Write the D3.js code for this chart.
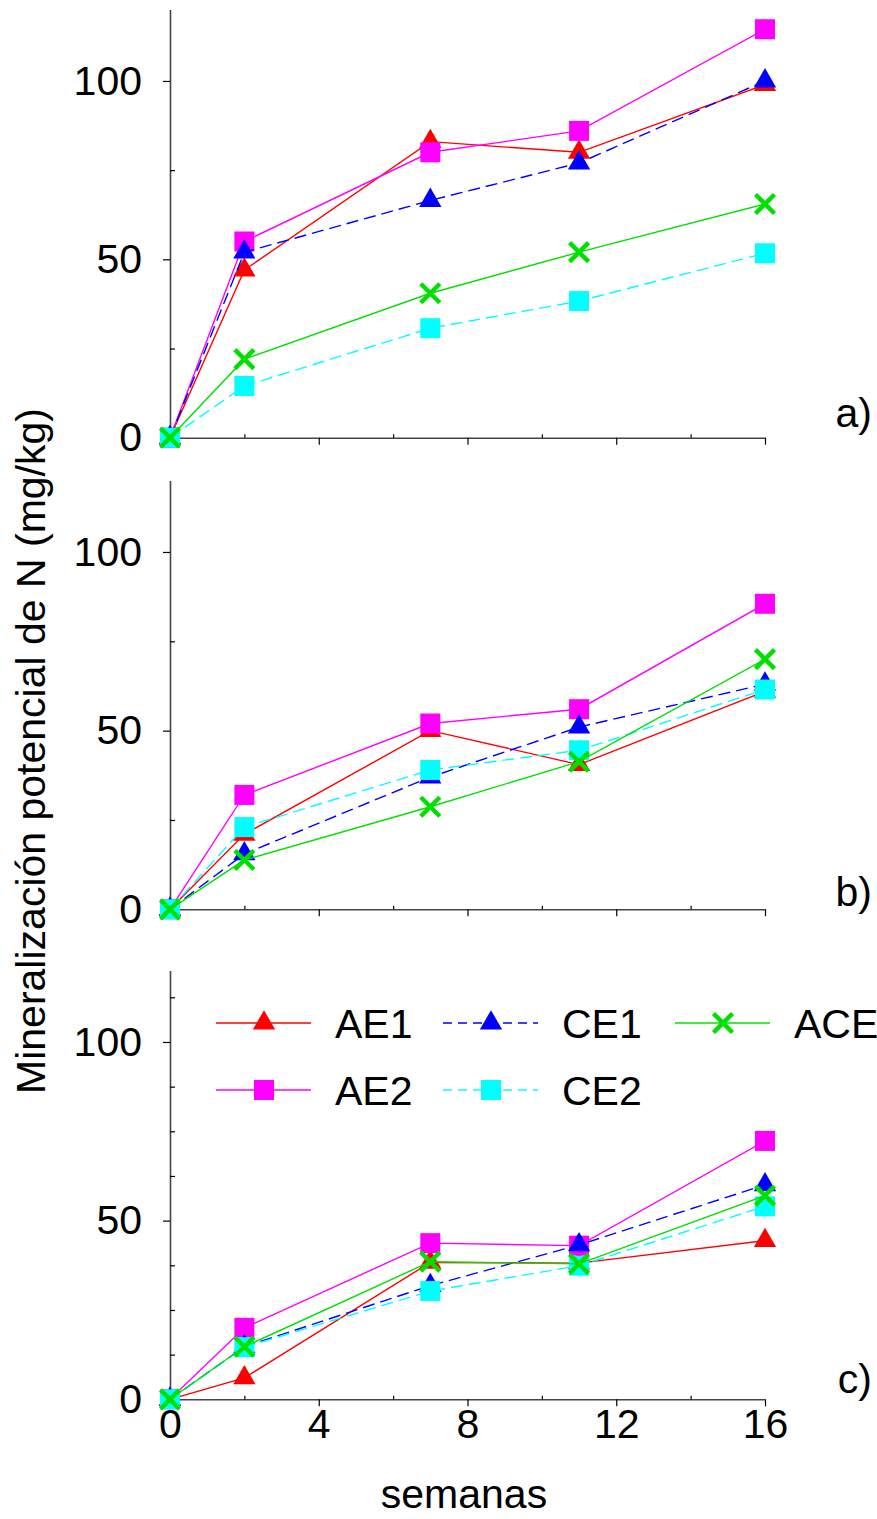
<!DOCTYPE html>
<html>
<head>
<meta charset="utf-8">
<script src="https://cdn.jsdelivr.net/npm/d3@7"></script>
<style>
  html, body { margin: 0; padding: 0; background: #fff; }
  svg { display: block; }
  text { font-family: "Liberation Sans", Arial, sans-serif; fill: #000; }
</style>
</head>
<body>
<svg id="chart" width="877" height="1519"></svg>
<script>
// Sampling weeks
const weeks = [0, 2, 7, 11, 16];

// Series definitions (order = drawing order)
const seriesNames = ["AE1", "AE2", "CE1", "CE2", "ACE"];

// Panel a) values (mg/kg)
const aAE1 = [0, 47, 83, 80, 99];
const aAE2 = [0, 55, 80, 86, 114.5];
const aCE1 = [0, 52, 66.5, 77, 100];
const aCE2 = [0, 14.5, 30.7, 38.3, 51.7];
const aACE = [0, 22, 40.5, 52, 65.5];

// Panel b) values
const bAE1 = [0, 21, 50, 40.5, 61];
const bAE2 = [0, 32, 52, 56, 85.5];
const bCE1 = [0, 15.5, 37, 51, 63];
const bCE2 = [0, 23, 39, 44.5, 61.5];
const bACE = [0, 13.8, 28.7, 41.3, 70];

// Panel c) values
const cAE1 = [0, 6, 38.3, 38.1, 44.4];
const cAE2 = [0, 20, 43.7, 43, 72.3];
const cCE1 = [0, 14.7, 31.8, 43.2, 60];
const cCE2 = [0, 14.6, 30.3, 37.4, 54];
const cACE = [0, 14.7, 38.5, 37.9, 57];

const panelLabels = ["a)", "b)", "c)"];
const yMajorTicks = [0, 50, 100];
const xMajorTicks = [0, 4, 8, 12, 16];
const xMinorTicks = [2, 6, 10, 14];

const panels = [
  { label: panelLabels[0], data: { AE1: aAE1, AE2: aAE2, CE1: aCE1, CE2: aCE2, ACE: aACE },
    minor: [25, 75], top: 9.6, bottom: 437.7, labelY: 427 },
  { label: panelLabels[1], data: { AE1: bAE1, AE2: bAE2, CE1: bCE1, CE2: bCE2, ACE: bACE },
    minor: [25, 75], top: 480.5, bottom: 909.3, labelY: 906 },
  { label: panelLabels[2], data: { AE1: cAE1, AE2: cAE2, CE1: cCE1, CE2: cCE2, ACE: cACE },
    minor: [12.5, 25, 37.5, 62.5, 75, 87.5, 112.5], top: 970.5, bottom: 1399.3, labelY: 1393 }
];

const style = {
  AE1: { color: "#ff0000", dash: null, marker: "triangle" },
  AE2: { color: "#ff00ff", dash: null, marker: "square" },
  CE1: { color: "#0000ff", dash: "12,6", marker: "triangle" },
  CE2: { color: "#00ffff", dash: "12,6", marker: "square" },
  ACE: { color: "#00e000", dash: null, marker: "cross" }
};

const svg = d3.select("#chart");
const x = d3.scaleLinear().domain([0, 16]).range([170, 765]);
const FS = 41;

function drawMarker(g, type, color, cx, cy) {
  if (type === "triangle") {
    g.append("path")
      .attr("d", d3.symbol().type(d3.symbolTriangle).size(215)())
      .attr("transform", `translate(${cx},${cy})`)
      .attr("fill", color);
  } else if (type === "square") {
    g.append("path")
      .attr("d", d3.symbol().type(d3.symbolSquare).size(400)())
      .attr("transform", `translate(${cx},${cy})`)
      .attr("fill", color);
  } else {
    const r = 9.5;
    g.append("path")
      .attr("d", `M${-r},${-r}L${r},${r}M${-r},${r}L${r},${-r}`)
      .attr("transform", `translate(${cx},${cy})`)
      .attr("stroke", color).attr("stroke-width", 4.5).attr("fill", "none");
  }
}

panels.forEach((p, i) => {
  const y = d3.scaleLinear().domain([0, 120]).range([p.bottom, p.top]);
  const g = svg.append("g");

  // y axis: major ticks outside with labels, minor ticks inside
  g.append("g").attr("transform", "translate(170,0)")
    .call(d3.axisLeft(y).tickValues(yMajorTicks).tickSizeInner(7).tickSizeOuter(0).tickPadding(21));
  g.append("g").attr("transform", "translate(170,0)")
    .call(d3.axisLeft(y).tickValues(p.minor).tickSizeInner(-5).tickSizeOuter(0).tickFormat(""))
    .select(".domain").remove();

  // x axis: major ticks outside, minor ticks inside
  g.append("g").attr("transform", `translate(0,${p.bottom})`)
    .call(d3.axisBottom(x).tickValues(xMajorTicks).tickSizeInner(7).tickSizeOuter(0).tickPadding(3)
      .tickFormat(i === 2 ? d3.format("d") : ""));
  g.append("g").attr("transform", `translate(0,${p.bottom})`)
    .call(d3.axisBottom(x).tickValues(xMinorTicks).tickSizeInner(-3.5).tickSizeOuter(0).tickFormat(""))
    .select(".domain").remove();

  g.selectAll(".domain").attr("stroke", "#444").attr("stroke-width", 1.6);
  g.selectAll(".tick line").attr("stroke", "#000").attr("stroke-width", 1.2);
  g.selectAll(".tick text").attr("font-size", FS).attr("font-family", "Liberation Sans, Arial, sans-serif");

  // series
  seriesNames.forEach(name => {
    const s = style[name];
    const vals = p.data[name];
    const pts = weeks.map((w, k) => [x(w), y(vals[k])]);
    g.append("path")
      .attr("d", d3.line()(pts))
      .attr("fill", "none")
      .attr("stroke", s.color)
      .attr("stroke-width", 1.4)
      .attr("stroke-dasharray", s.dash);
    pts.forEach(([cx, cy]) => drawMarker(g, s.marker, s.color, cx, cy));
  });

  // panel tag
  g.append("text").attr("x", 872).attr("y", p.labelY)
    .attr("text-anchor", "end").attr("font-size", FS).text(p.label);
});

// Legend (drawn in panel c)
const legendRows = [
  [{ name: "AE1", x: 216 }, { name: "CE1", x: 443 }, { name: "ACE", x: 675 }],
  [{ name: "AE2", x: 216 }, { name: "CE2", x: 443 }]
];
const legendY = [1023, 1090];
const lg = svg.append("g");
legendRows.forEach((row, r) => {
  row.forEach(item => {
    const s = style[item.name];
    const cy = legendY[r];
    lg.append("line")
      .attr("x1", item.x).attr("x2", item.x + 95)
      .attr("y1", cy).attr("y2", cy)
      .attr("stroke", s.color).attr("stroke-width", 1.4)
      .attr("stroke-dasharray", s.dash ? "9,6" : null);
    drawMarker(lg, s.marker, s.color, item.x + 48, cy);
    lg.append("text")
      .attr("x", item.x + 119).attr("y", cy + 15)
      .attr("font-size", FS).text(item.name);
  });
});

// Axis titles
svg.append("text")
  .attr("transform", "translate(45,751) rotate(-90)")
  .attr("text-anchor", "middle")
  .attr("font-size", 41)
  .text("Mineralización potencial de N (mg/kg)");

svg.append("text")
  .attr("x", 464).attr("y", 1508)
  .attr("text-anchor", "middle")
  .attr("font-size", FS)
  .text("semanas");
</script>
</body>
</html>
